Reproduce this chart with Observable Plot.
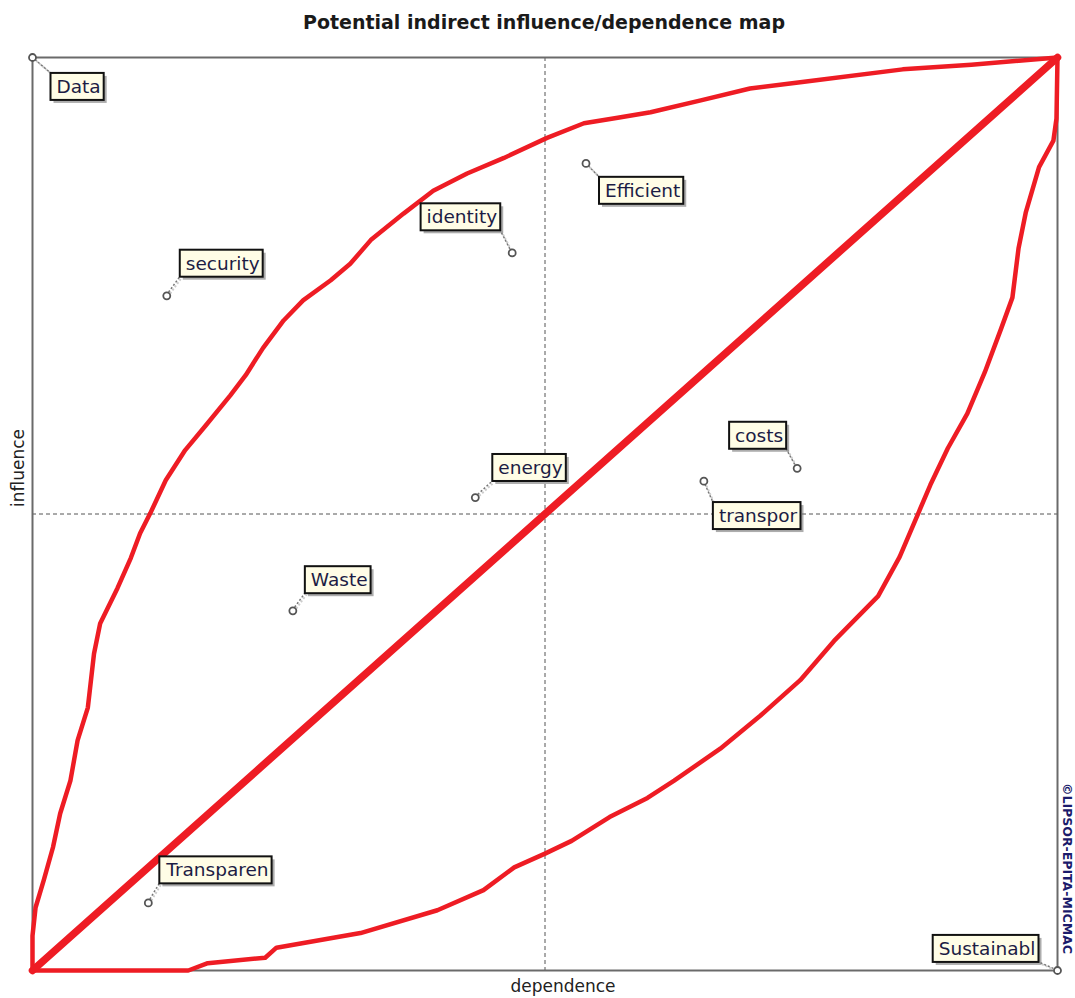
<!DOCTYPE html>
<html>
<head>
<meta charset="utf-8">
<script src="https://cdn.jsdelivr.net/npm/d3@7"></script>
<script src="https://cdn.jsdelivr.net/npm/@observablehq/plot@0.6"></script>
<style>
  body { margin: 0; background: #fff; font-family: "DejaVu Sans", sans-serif; }
  #title { width: 1075px; height: 40px; line-height: 44px; text-align: center; padding-left: 13px; box-sizing: border-box;
           font-weight: bold; font-size: 19px; color: #1a1a1a; }
</style>
</head>
<body>
<div id="title">Potential indirect influence/dependence map</div>
<div id="chart"></div>
<script>
// ---- Data ----
const names = ["Data", "Efficient", "identity", "security", "energy", "costs", "transpor", "Waste", "Transparen", "Sustainabl"];
const dependence = [0, 0.540, 0.468, 0.131, 0.432, 0.746, 0.655, 0.254, 0.113, 1];
const influence  = [1, 0.884, 0.786, 0.739, 0.518, 0.550, 0.536, 0.394, 0.074, 0];

const upperDep = [0, 0, 0.003, 0.011, 0.020, 0.027, 0.037, 0.044, 0.054, 0.060, 0.066, 0.083, 0.096, 0.105, 0.115, 0.130, 0.149, 0.169, 0.193, 0.208, 0.225, 0.245, 0.264, 0.291, 0.310, 0.330, 0.362, 0.391, 0.424, 0.460, 0.502, 0.538, 0.571, 0.603, 0.652, 0.700, 0.749, 0.849, 0.916, 1];
const upperInf = [0, 0.038, 0.069, 0.099, 0.135, 0.172, 0.208, 0.252, 0.288, 0.347, 0.380, 0.419, 0.452, 0.479, 0.501, 0.537, 0.570, 0.597, 0.630, 0.652, 0.682, 0.712, 0.734, 0.756, 0.774, 0.800, 0.829, 0.854, 0.873, 0.890, 0.912, 0.928, 0.934, 0.940, 0.953, 0.966, 0.973, 0.987, 0.992, 1];

const lowerDep = [0, 0.115, 0.152, 0.171, 0.227, 0.238, 0.320, 0.395, 0.440, 0.470, 0.500, 0.526, 0.563, 0.600, 0.626, 0.671, 0.710, 0.749, 0.782, 0.825, 0.846, 0.865, 0.876, 0.893, 0.912, 0.929, 0.945, 0.956, 0.962, 0.969, 0.982, 0.996, 0.999, 1];
const lowerInf = [0, 0, 0, 0.008, 0.014, 0.025, 0.041, 0.066, 0.088, 0.113, 0.128, 0.142, 0.168, 0.189, 0.208, 0.243, 0.279, 0.318, 0.361, 0.410, 0.453, 0.503, 0.532, 0.572, 0.610, 0.655, 0.703, 0.737, 0.791, 0.830, 0.880, 0.909, 0.933, 1];

const diagDep = [0, 1];
const diagInf = [0, 1];

// ---- Layout / style (label offsets in pixels from the marker) ----
const labelOffsets = [[24, 29.5, "start"], [19, 27.5, "start"], [-15, -35.5, "end"], [19, -32, "start"], [23, -29.5, "start"],
                      [-14, -32.5, "end"], [15, 35, "start"], [18, -30.5, "start"], [18, -32.5, "start"], [-22, -21.5, "end"]];
const RED = "#ee1c24";

const nodes = names.map((n, i) => ({name: n, x: dependence[i], y: influence[i]}));
const toPts = (xs, ys) => xs.map((x, i) => ({x, y: ys[i]}));
const upper = toPts(upperDep, upperInf);
const lower = toPts(lowerDep, lowerInf);
const diag = toPts(diagDep, diagInf);

const labelMarks = nodes.map((d, i) => Plot.text([d], {
  x: "x", y: "y", text: "name",
  dx: labelOffsets[i][0], dy: labelOffsets[i][1],
  textAnchor: labelOffsets[i][2], lineAnchor: "middle",
  fontSize: 18.5, fill: "#1c1c44", ariaLabel: () => "node-label"
}));

const chart = Plot.plot({
  width: 1075,
  height: 958,
  marginTop: 17,
  marginBottom: 28,
  marginLeft: 32,
  marginRight: 18,
  style: {fontFamily: "DejaVu Sans, sans-serif", background: "#fff"},
  x: {domain: [0, 1], axis: null},
  y: {domain: [0, 1], axis: null},
  marks: [
    Plot.ruleX([0.5], {stroke: "#555", strokeWidth: 1, strokeDasharray: "4,3"}),
    Plot.ruleY([0.5], {stroke: "#555", strokeWidth: 1, strokeDasharray: "4,3"}),
    Plot.frame({stroke: "#6a6a6a", strokeWidth: 2}),
    Plot.line(upper, {x: "x", y: "y", stroke: RED, strokeWidth: 4.5, curve: "linear"}),
    Plot.line(lower, {x: "x", y: "y", stroke: RED, strokeWidth: 4.5, curve: "linear"}),
    Plot.line(diag, {x: "x", y: "y", stroke: RED, strokeWidth: 7.5, strokeLinecap: "round"}),
    ...labelMarks,
    Plot.dot(nodes, {x: "x", y: "y", r: 3.5, fill: "#fff", stroke: "#555", strokeWidth: 1.8}),
    Plot.text(["dependence"], {frameAnchor: "bottom", text: d => d, dy: 16, dx: 18, fontSize: 17, fill: "#222", lineAnchor: "middle", textAnchor: "middle"}),
    Plot.text(["influence"], {frameAnchor: "left", text: d => d, rotate: -90, dx: -14, dy: -46, fontSize: 17, fill: "#222", lineAnchor: "middle", textAnchor: "middle"}),
    Plot.text(["©LIPSOR-EPITA-MICMAC"], {frameAnchor: "bottom-right", text: d => d, rotate: 90, dx: 9, dy: -102, fontSize: 12.5, fontWeight: "bold", fill: "#1b1b6b", lineAnchor: "middle", textAnchor: "middle"})
  ]
});
document.getElementById("chart").appendChild(chart);

// ---- Label boxes, shadows and leader lines ----
const svgRect = chart.getBoundingClientRect();
const sx = chart.scale("x"), sy = chart.scale("y");
const labelTexts = Array.from(chart.querySelectorAll("text")).filter(t => t.getAttribute("aria-label") === "node-label");
labelTexts.forEach((t, i) => {
  const r = t.getBoundingClientRect();
  const x0 = r.left - svgRect.left - 6, x1 = r.right - svgRect.left + 3;
  const cy = (r.top + r.bottom) / 2 - svgRect.top;
  const y0 = cy - 13.5, y1 = cy + 13.5;
  const px = sx.apply(nodes[i].x), py = sy.apply(nodes[i].y);
  const g = t.parentNode;
  const layer = document.createElementNS("http://www.w3.org/2000/svg", "g");
  g.parentNode.insertBefore(layer, g);
  const L = d3.select(layer);
  const cx = Math.abs(px - x0) < Math.abs(px - x1) ? x0 : x1;
  const cyy = Math.abs(py - y0) < Math.abs(py - y1) ? y0 : y1;
  L.append("line").attr("x1", px + 1.5).attr("y1", py + 1.5).attr("x2", cx + 1.5).attr("y2", cyy + 1.5)
    .attr("stroke", "#ccc").attr("stroke-width", 2).attr("stroke-dasharray", "2,2");
  L.append("line").attr("x1", px).attr("y1", py).attr("x2", cx).attr("y2", cyy)
    .attr("stroke", "#777").attr("stroke-width", 1.5).attr("stroke-dasharray", "2,2");
  L.append("rect").attr("x", x0 + 3).attr("y", y0 + 3).attr("width", x1 - x0).attr("height", y1 - y0)
    .attr("fill", "#777").attr("opacity", 0.6);
  L.append("rect").attr("x", x0).attr("y", y0).attr("width", x1 - x0).attr("height", y1 - y0)
    .attr("fill", "#fffde6").attr("stroke", "#111").attr("stroke-width", 2);
});
</script>
</body>
</html>
